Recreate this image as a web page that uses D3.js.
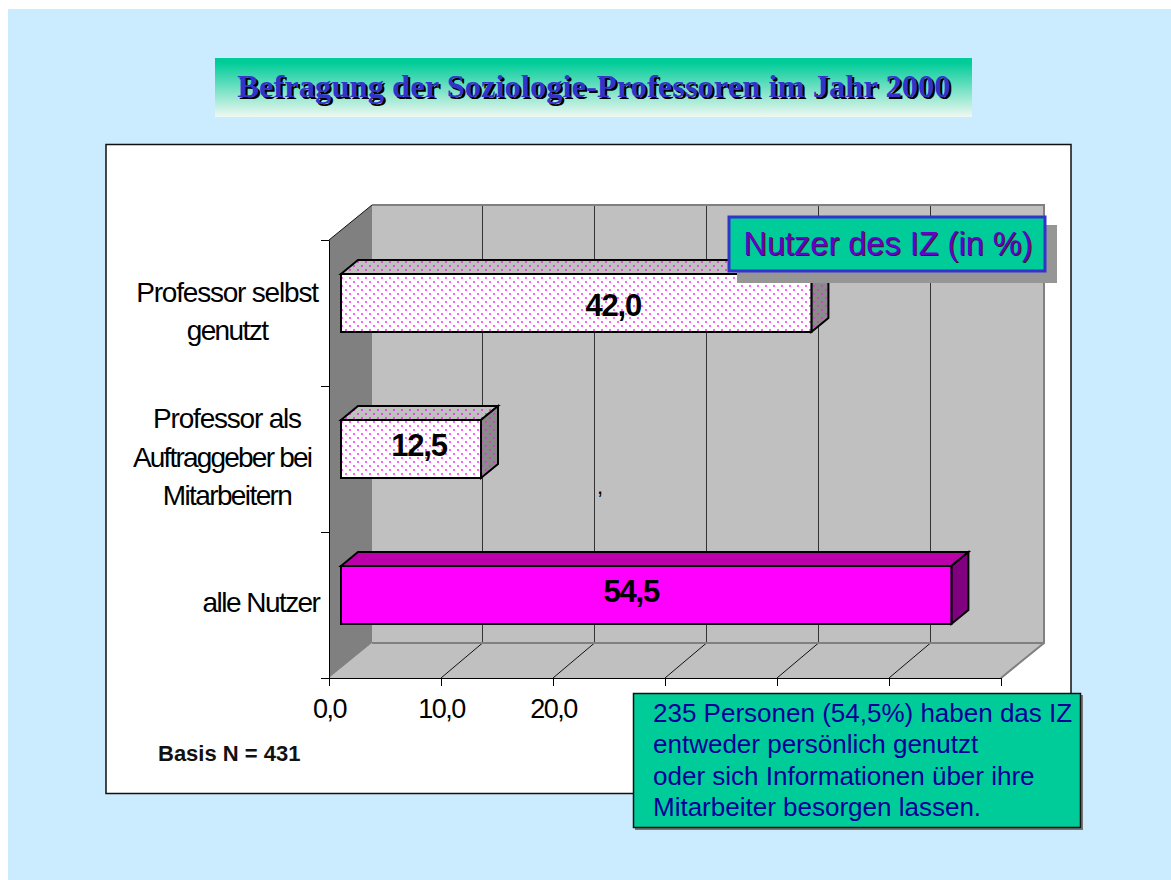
<!DOCTYPE html>
<html>
<head>
<meta charset="utf-8">
<script src="https://cdn.jsdelivr.net/npm/d3@7"></script>
<style>
  body { margin: 0; background: #fff; }
  svg { display: block; }
  text { font-family: "Liberation Sans", Arial, sans-serif; }
</style>
</head>
<body>
<svg id="chart" width="1171" height="880"></svg>
<script>
// Values
const categories = ['Professor selbst genutzt', 'Professor als Auftraggeber bei Mitarbeitern', 'alle Nutzer'];
const categoryLines = [['Professor selbst', 'genutzt'], ['Professor als', 'Auftraggeber bei', 'Mitarbeitern'], ['alle Nutzer']];
const values = [42.0, 12.5, 54.5];
const xTicks = [0, 10, 20, 30, 40, 50, 60];
const xTickLabels = [0, 10, 20]; // the rest sit under the note box in the original
const titleText = 'Befragung der Soziologie-Professoren im Jahr 2000';
const legendText = 'Nutzer des IZ (in %)';
const basisText = 'Basis N = 431';
const noteLines = ['235 Personen (54,5%) haben das IZ', 'entweder persönlich genutzt', 'oder sich Informationen über ihre', 'Mitarbeiter besorgen lassen.'];

// Layout of the 3D plot box
const depth = { dx: 43, dy: -35 };
const gridDx = 41.5;
const barInset = { dx: 12, dy: -10 };
const barDepth = { dx: 17, dy: -14 };
const barHeight = 58;
const labelShift = [37, 8, -15];
const labelDy = [4, -2, -2];
const lineOffsets = [[-1, 37], [-21, 18, 56], [17]];
const lineShift = [[0, 0], [0, -5, 0], [34]];
const lineTracking = [[-1.2, -1.6], [-1.2, -1.8, -1.6], [-1.55]];

const svg = d3.select('#chart');
const comma = d => d.toFixed(1).replace('.', ',');

const x = d3.scaleLinear().domain([0, 60]).range([329, 1001]);
const y = d3.scaleBand().domain(categories).range([240, 678]);
const yTop = y.range()[0], yBottom = y.range()[1];

// Dotted fills for the two lighter bars
const defs = svg.append('defs');
const grad = defs.append('linearGradient').attr('id', 'titleGrad')
    .attr('x1', 0).attr('y1', 0).attr('x2', 0).attr('y2', 1);
grad.append('stop').attr('offset', '8%').attr('stop-color', '#00cc99');
grad.append('stop').attr('offset', '100%').attr('stop-color', '#f0f8f2');

[['dotFront', '#ffffff', '#ff44ff'], ['dotTop', '#c0c0c0', '#e040d8'], ['dotSide', '#8a8a8a', '#d040c8']].forEach(p => {
    const pat = defs.append('pattern').attr('id', p[0]).attr('patternUnits', 'userSpaceOnUse')
        .attr('width', 8).attr('height', 8);
    pat.append('rect').attr('width', 8).attr('height', 8).attr('fill', p[1]);
    pat.selectAll('rect.dot').data([[1, 1], [5, 5]]).enter().append('rect')
        .attr('class', 'dot')
        .attr('x', d => d[0]).attr('y', d => d[1])
        .attr('width', 2).attr('height', 2)
        .attr('fill', p[2])
        .attr('opacity', 0.85);
});

// Background and frame
svg.append('rect').attr('x', 8).attr('y', 9).attr('width', 1163).attr('height', 871).attr('fill', '#cbebff');
svg.append('rect').attr('x', 106).attr('y', 144.5).attr('width', 965).attr('height', 649)
    .attr('fill', '#fff').attr('stroke', '#111').attr('stroke-width', 1.5);

// Title banner
svg.append('rect').attr('x', 215).attr('y', 58).attr('width', 757).attr('height', 59).attr('fill', 'url(#titleGrad)');
svg.selectAll('text.title').data([['#000', 2, 2], ['#3333cc', 0, 0]]).enter().append('text')
    .attr('class', 'title')
    .attr('x', d => 594 + d[1]).attr('y', d => 97 + d[2])
    .attr('text-anchor', 'middle')
    .style('font-family', '"Liberation Serif", "Times New Roman", serif')
    .style('font-weight', 'bold').style('font-size', '32.6px')
    .attr('fill', d => d[0]).text(titleText);

// Walls and floor
const poly = pts => pts.map(p => p.join(',')).join(' ');
const x0 = x(0), x1 = x(60);
svg.append('polygon')
    .attr('points', poly([[x0, yBottom], [x0 + depth.dx, yBottom + depth.dy], [x1 + depth.dx, yBottom + depth.dy], [x1, yBottom]]))
    .attr('fill', '#c0c0c0');
svg.append('rect').attr('x', x0 + depth.dx).attr('y', yTop + depth.dy)
    .attr('width', x1 - x0).attr('height', yBottom - yTop).attr('fill', '#c0c0c0');
svg.append('polygon')
    .attr('points', poly([[x0, yTop], [x0 + depth.dx, yTop + depth.dy], [x0 + depth.dx, yBottom + depth.dy], [x0, yBottom]]))
    .attr('fill', '#808080');

// Grid lines on back wall and floor
svg.selectAll('line.wall').data(xTicks.slice(1, -1)).enter().append('line')
    .attr('class', 'wall')
    .attr('x1', d => x(d) + gridDx).attr('x2', d => x(d) + gridDx)
    .attr('y1', yTop + depth.dy).attr('y2', yBottom + depth.dy)
    .attr('stroke', '#333').attr('stroke-width', 1);
svg.selectAll('line.floor').data(xTicks.slice(1, -1)).enter().append('line')
    .attr('class', 'floor')
    .attr('x1', d => x(d)).attr('x2', d => x(d) + gridDx)
    .attr('y1', yBottom).attr('y2', yBottom + depth.dy)
    .attr('stroke', '#111').attr('stroke-width', 1);
svg.append('polyline')
    .attr('points', poly([[x0 + depth.dx, yTop + depth.dy], [x1 + depth.dx, yTop + depth.dy], [x1 + depth.dx, yBottom + depth.dy], [x1, yBottom]]))
    .attr('fill', 'none').attr('stroke', '#808080').attr('stroke-width', 2);
svg.append('line')
    .attr('x1', x0 + depth.dx).attr('x2', x1 + depth.dx)
    .attr('y1', yBottom + depth.dy).attr('y2', yBottom + depth.dy)
    .attr('stroke', '#808080').attr('stroke-width', 2);
svg.append('line')
    .attr('x1', x0).attr('x2', x0 + depth.dx)
    .attr('y1', yTop).attr('y2', yTop + depth.dy)
    .attr('stroke', '#111').attr('stroke-width', 1);

// Axes
const xAxis = d3.axisBottom(x).tickValues(xTicks)
    .tickFormat(d => xTickLabels.includes(d) ? comma(d) : '')
    .tickSize(8).tickPadding(13).tickSizeOuter(0);
const xg = svg.append('g').attr('transform', 'translate(0,' + yBottom + ')').call(xAxis);
xg.selectAll('text')
    .style('font-size', '27px').style('letter-spacing', '-1.5px').attr('fill', '#000');
xg.selectAll('line, path').attr('stroke', '#000');

const yEdges = d3.scaleLinear().domain([0, categories.length]).range([yTop, yBottom]);
const yAxis = d3.axisLeft(yEdges).ticks(categories.length).tickFormat('').tickSize(8).tickSizeOuter(0);
const yg = svg.append('g').attr('transform', 'translate(' + x0 + ',0)').call(yAxis);
yg.selectAll('line, path').attr('stroke', '#000');

// Category labels
const labels = svg.selectAll('g.catlabel').data(categories).enter().append('g').attr('class', 'catlabel');
labels.each(function(c, i) {
    const mid = y(c) + y.bandwidth() / 2 - 10;
    d3.select(this).selectAll('text').data(categoryLines[i]).enter().append('text')
        .attr('x', (d, k) => 227 + lineShift[i][k])
        .attr('y', (d, k) => mid + lineOffsets[i][k])
        .attr('text-anchor', 'middle')
        .style('font-size', '28px').style('letter-spacing', (d, k) => lineTracking[i][k] + 'px')
        .attr('fill', '#000').text(d => d);
});

// Bars: top face, side face, front face
const bars = svg.selectAll('g.bar').data(categories).enter().append('g').attr('class', 'bar');
const barLeft = x(0) + barInset.dx;
const barW = v => x(v) - x(0);
const barTop = c => y(c) + (y.bandwidth() - barHeight) / 2 + barInset.dy;
const solid = 2;
bars.append('polygon')
    .attr('points', (c, i) => {
        const t = barTop(c), r = barLeft + barW(values[i]);
        return poly([[barLeft, t], [barLeft + barDepth.dx, t + barDepth.dy], [r + barDepth.dx, t + barDepth.dy], [r, t]]);
    })
    .attr('fill', (c, i) => i === solid ? '#bb00aa' : 'url(#dotTop)')
    .attr('stroke', '#000').attr('stroke-width', 2);
bars.append('polygon')
    .attr('points', (c, i) => {
        const t = barTop(c), r = barLeft + barW(values[i]);
        return poly([[r, t], [r + barDepth.dx, t + barDepth.dy], [r + barDepth.dx, t + barDepth.dy + barHeight], [r, t + barHeight]]);
    })
    .attr('fill', (c, i) => i === solid ? '#800080' : 'url(#dotSide)')
    .attr('stroke', '#000').attr('stroke-width', 2);
bars.append('rect')
    .attr('x', barLeft).attr('y', barTop)
    .attr('width', (c, i) => barW(values[i])).attr('height', barHeight)
    .attr('fill', (c, i) => i === solid ? '#ff00ff' : 'url(#dotFront)')
    .attr('stroke', '#000').attr('stroke-width', 2);
bars.append('text')
    .attr('x', (c, i) => barLeft + barW(values[i]) / 2 + labelShift[i])
    .attr('y', (c, i) => barTop(c) + barHeight / 2 + 9 + labelDy[i])
    .attr('text-anchor', 'middle')
    .style('font-size', '31px').style('font-weight', 'bold').style('letter-spacing', '-1.2px')
    .attr('fill', '#000')
    .text((c, i) => comma(values[i]));

// Stray comma from the original slide
svg.append('text').attr('x', 597).attr('y', 494).style('font-size', '22px').attr('fill', '#000').text(',');

// Basis note
svg.append('text').attr('x', 158).attr('y', 761)
    .style('font-size', '22px').style('font-weight', 'bold').attr('fill', '#111').text(basisText);

// Legend box with shadow
svg.append('rect').attr('x', 737).attr('y', 225).attr('width', 320).attr('height', 58).attr('fill', '#969696');
svg.append('rect').attr('x', 729).attr('y', 217).attr('width', 316).attr('height', 54)
    .attr('fill', '#00cc99').attr('stroke', '#3333cc').attr('stroke-width', 3);
svg.selectAll('text.legend').data([['#222', 1, 1], ['#6600cc', 0, 0]]).enter().append('text')
    .attr('class', 'legend')
    .attr('x', d => 888 + d[1]).attr('y', d => 255 + d[2])
    .attr('text-anchor', 'middle')
    .style('font-size', '32.5px')
    .attr('fill', d => d[0]).text(legendText);

// Note box
svg.append('rect').attr('x', 635).attr('y', 695).attr('width', 448).attr('height', 135).attr('fill', '#777');
svg.append('rect').attr('x', 633.5).attr('y', 693.5).attr('width', 447).attr('height', 134)
    .attr('fill', '#00cc99').attr('stroke', '#111').attr('stroke-width', 1.5);
svg.selectAll('text.note').data(noteLines).enter().append('text')
    .attr('class', 'note')
    .attr('x', 653).attr('y', (d, i) => 722 + i * 31.3)
    .style('font-size', '26px')
    .attr('fill', '#000099').text(d => d);
</script>
</body>
</html>
